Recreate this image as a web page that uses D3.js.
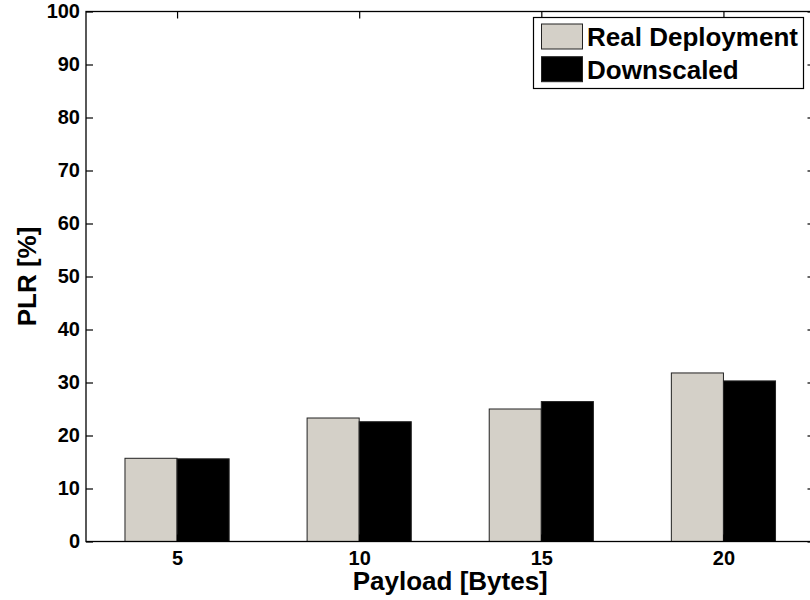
<!DOCTYPE html>
<html>
<head>
<meta charset="utf-8">
<script src="https://cdn.jsdelivr.net/npm/d3@7"></script>
<style>
  html, body { margin: 0; padding: 0; background: #fff; }
  svg { display: block; font-family: "Liberation Sans", Arial, Helvetica, sans-serif; font-weight: bold; }
</style>
</head>
<body>
<svg id="chart" width="810" height="600"></svg>
<script>
// Payload sizes (bytes) on the x axis
const payloads = [5, 10, 15, 20];
// Packet loss ratio (%) per payload size
const realDeployment = [15.7, 23.3, 25.0, 31.8];
const downscaled = [15.6, 22.6, 26.4, 30.3];
const seriesNames = ["Real Deployment", "Downscaled"];
const yTicks = [0, 10, 20, 30, 40, 50, 60, 70, 80, 90, 100];

const svg = d3.select("#chart");
const plot = { left: 86, right: 814.5, top: 11.5, bottom: 541.5 };

const x = d3.scaleLinear().domain([2.5, 22.5]).range([plot.left, plot.right]);
const y = d3.scaleLinear().domain([0, 100]).range([plot.bottom, plot.top]);

const barWidth = 1.43; // in payload units
const colors = ["#d4d0c8", "#000000"];
const series = [realDeployment, downscaled];

// bars
series.forEach((vals, s) => {
  svg.append("g").selectAll("rect")
    .data(payloads.map((p, i) => ({ p, v: vals[i] })))
    .join("rect")
    .attr("x", d => x(s === 0 ? d.p - barWidth : d.p))
    .attr("y", d => y(d.v))
    .attr("width", d => x(d.p + barWidth) - x(d.p))
    .attr("height", d => y(0) - y(d.v))
    .attr("fill", colors[s])
    .attr("stroke", "#222")
    .attr("stroke-width", 1);
});

const tickLen = 7;
// axes with inward ticks
const yLeft = d3.axisLeft(y).tickValues(yTicks).tickSize(-tickLen).tickPadding(6);
const gy = svg.append("g").attr("transform", `translate(${plot.left},0)`).call(yLeft);
const yRight = d3.axisRight(y).tickValues(yTicks).tickSize(-tickLen).tickFormat("");
const gyr = svg.append("g").attr("transform", `translate(${plot.right},0)`).call(yRight);
const xBottom = d3.axisBottom(x).tickValues(payloads).tickSize(-tickLen).tickPadding(9);
const gx = svg.append("g").attr("transform", `translate(0,${plot.bottom})`).call(xBottom);
const xTop = d3.axisTop(x).tickValues(payloads).tickSize(-tickLen).tickFormat("");
const gxt = svg.append("g").attr("transform", `translate(0,${plot.top})`).call(xTop);

[gy, gyr, gx, gxt].forEach(g => {
  g.select(".domain").remove();
  g.selectAll(".tick line").attr("stroke", "#000").attr("stroke-width", 1.2);
  g.selectAll("text").attr("fill", "#000").style("font-size", "20px").style("font-weight", "bold")
    .style("font-family", "Liberation Sans, Arial, sans-serif");
});

// frame
svg.append("rect")
  .attr("x", plot.left).attr("y", plot.top)
  .attr("width", plot.right - plot.left).attr("height", plot.bottom - plot.top)
  .attr("fill", "none").attr("stroke", "#000").attr("stroke-width", 1.3);

// axis titles
svg.append("text")
  .attr("x", (plot.left + plot.right) / 2).attr("y", 590)
  .attr("text-anchor", "middle").style("font-size", "26px")
  .text("Payload [Bytes]");
svg.append("text")
  .attr("transform", `translate(36,${(plot.top + plot.bottom) / 2}) rotate(-90)`)
  .attr("text-anchor", "middle").style("font-size", "26px")
  .text("PLR [%]");

// legend
const lg = svg.append("g");
lg.append("rect").attr("x", 533.5).attr("y", 17.5).attr("width", 270).attr("height", 71)
  .attr("fill", "#fff").attr("stroke", "#000").attr("stroke-width", 1.2);
seriesNames.forEach((name, i) => {
  const yy = 24 + i * 32.7;
  lg.append("rect").attr("x", 541.5).attr("y", yy).attr("width", 41).attr("height", 25)
    .attr("fill", colors[i]).attr("stroke", "#222").attr("stroke-width", 1);
  lg.append("text").attr("x", 587).attr("y", yy + 22).style("font-size", "26px").text(name);
});
</script>
</body>
</html>
